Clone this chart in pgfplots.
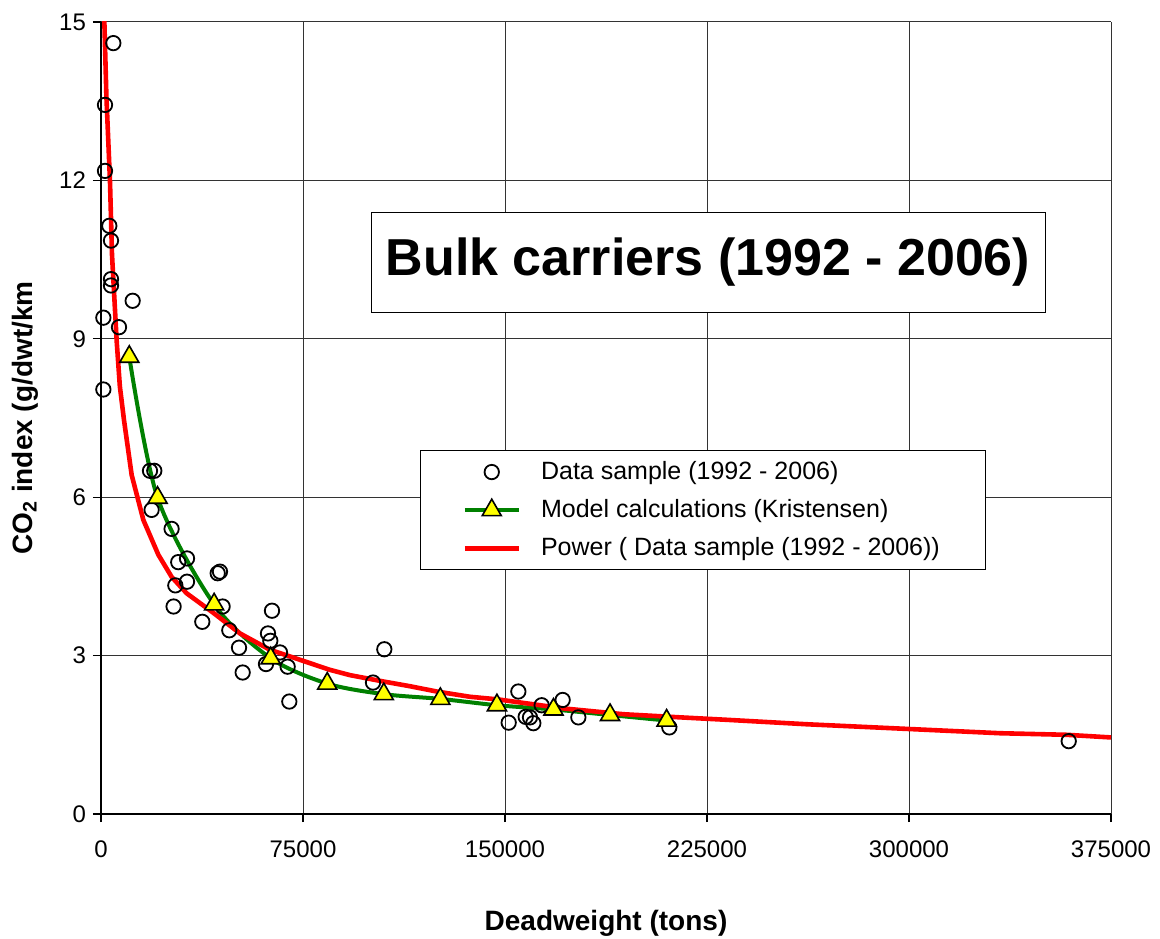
\documentclass[border=0pt]{standalone}
\usepackage{fontspec}
\setmainfont{Liberation Sans}
\usepackage{pgfplots}
\pgfplotsset{compat=1.18}
\definecolor{trendred}{RGB}{255,0,0}
\definecolor{modelgreen}{RGB}{0,128,0}
\definecolor{markyellow}{RGB}{255,255,0}

\begin{document}
\begin{tikzpicture}
\path[use as bounding box] (-50.5pt,-62pt) rectangle (529.5pt,407pt);
\begin{axis}[
  scale only axis, width=505pt, height=396pt,
  xmin=0, xmax=375000, ymin=0, ymax=15,
  scaled x ticks=false,
  xtick={0,75000,150000,225000,300000,375000},
  xticklabels={0,75000,150000,225000,300000,375000},
  ytick={0,3,6,9,12,15},
  /pgf/number format/assume math mode=true,
  tick label style={font=\fontsize{12}{14}\selectfont},
  xticklabel style={yshift=-6pt},
  grid=major, major grid style={black!80, line width=0.5pt},
  axis x line*=bottom, axis y line*=left,
  axis line style={black, line width=1pt},
  tick align=outside, major tick length=4pt,
  tick style={black, line width=0.6pt},
  xlabel={\bfseries Deadweight (tons)},
  ylabel={\bfseries CO\textsubscript{2} index (g/dwt/km},
  every axis x label/.style={at={(axis description cs:0.5,-0.1376)}, anchor=center, font=\fontsize{14}{16}\selectfont},
  every axis y label/.style={at={(axis description cs:-0.0752,0.5)}, anchor=center, rotate=90, font=\fontsize{14}{16}\selectfont},
  legend style={
    at={(0.3158,0.4596)}, anchor=north west,
    draw=black, line width=0.5pt, fill=white,
    font=\fontsize{12.5}{15}\selectfont,
    inner xsep=21pt, inner ysep=3.5pt, row sep=4.5pt, column sep=8pt,
  },
  legend cell align=left,
  legend image code/.code={\draw[mark repeat=2,mark phase=2,#1] plot coordinates {(0pt,0pt) (13.5pt,0pt) (27pt,0pt)};},
]

% ship data sample
\addplot[only marks, mark=o, mark size=3.6pt, mark options={draw=black, fill=white, line width=0.9pt}]
coordinates {
(4580,14.60) (1485,13.43) (1485,12.18) (3090,11.14) (3713,10.86)
(3713,10.13) (3713,10.01) (11760,9.72) (870,9.40) (6680,9.22)
(870,8.04)
(18190,6.50) (19790,6.50) (18790,5.76) (26210,5.40) (28680,4.77)
(31930,4.84) (43330,4.56) (44180,4.59) (27600,4.33) (31930,4.40)
(26950,3.93) (45150,3.93) (37610,3.64) (47640,3.48) (51240,3.15)
(52600,2.68) (63490,3.85) (62000,3.42) (62860,3.28) (66460,3.06)
(61260,2.84) (69300,2.79) (69920,2.13)
(105190,3.12) (100990,2.49)
(154950,2.32) (151370,1.73) (157680,1.84) (159280,1.83) (160520,1.72)
(163610,2.06) (171410,2.16) (177230,1.83) (211000,1.64)
(359300,1.38)
};
\addlegendentry{Data sample (1992 - 2006)}

% model calculations
\addplot[modelgreen, line width=2pt, smooth, tension=0.5, mark=triangle*, mark size=5.5pt,
  mark options={draw=black, fill=markyellow, line width=0.8pt, solid}]
coordinates {
(10500,8.66) (21000,5.99) (42000,3.97) (63000,2.95) (84000,2.47)
(105000,2.27) (126000,2.18) (147000,2.06) (168000,1.98) (189000,1.875)
(210000,1.77)
};
\addlegendentry{Model calculations (Kristensen)}

% power trendline
\addplot[trendred, line width=2.3pt, mark=none, line join=round]
coordinates {
(1230,15.04) (2000,13.6) (3340,11.98) (4080,10.6) (5820,8.96)
(7000,8.1) (8540,7.46) (11390,6.42) (15720,5.57) (21290,4.91)
(26240,4.49) (31800,4.18) (41700,3.81) (51600,3.42) (62750,3.11)
(73890,2.92) (85030,2.73) (92450,2.63) (104820,2.51) (114730,2.42)
(124640,2.32) (137020,2.22) (147540,2.17) (153100,2.13) (171670,2.00)
(193940,1.89) (215230,1.83) (233800,1.78) (262000,1.70) (300000,1.61)
(333800,1.53) (358550,1.50) (375000,1.45)
};
\addlegendentry{Power ( Data sample (1992 - 2006))}

\node[draw=black, line width=0.5pt, fill=white, minimum width=337pt, minimum height=50pt,
  font=\fontsize{26}{30}\selectfont\bfseries] at (axis cs:225370,10.45) {Bulk carriers (1992 - 2006)};
\end{axis}
\end{tikzpicture}
\end{document}
